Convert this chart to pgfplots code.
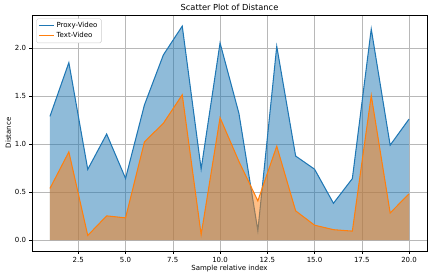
\documentclass[border=0pt]{standalone}
\usepackage{pgfplots}
\pgfplotsset{compat=1.18}
\usepackage{fontspec}
\setmainfont{DejaVu Sans}
\definecolor{tabblue}{HTML}{1F77B4}
\definecolor{taborange}{HTML}{FF7F0E}
\newcommand{\legfont}{\fontsize{7}{8}\selectfont}
\begin{document}
\begin{tikzpicture}
\begin{axis}[
  scale only axis,
  width=395pt, height=236pt,
  xmin=0.05, xmax=20.95, ymin=-0.112, ymax=2.346,
  xtick={2.5,5,...,20}, ytick={0,0.5,...,2},
  /pgf/number format/assume math mode=true,
  xticklabel style={/pgf/number format/.cd,fixed,fixed zerofill,precision=1},
  yticklabel style={/pgf/number format/.cd,fixed,fixed zerofill,precision=1},
  tick label style={font=\fontsize{7}{8}\selectfont},
  label style={font=\fontsize{7}{8}\selectfont},
  title style={font=\fontsize{8.3}{9}\selectfont, yshift=-5.5pt},
  title={Scatter Plot of Distance},
  xlabel={Sample relative index}, ylabel={Distance},
  xlabel style={yshift=4pt}, ylabel style={yshift=-3pt},
  grid=major, grid style={color=black!28, line width=0.6pt},
  axis line style={line width=0.7pt},
  tick style={black, line width=0.6pt},
  tick align=outside, major tick length=2.5pt,
  xtick pos=bottom, ytick pos=left,
  legend style={font=\legfont, nodes={font=\legfont}, draw=black!20, rounded corners=1.5pt, inner xsep=2pt, inner ysep=1.5pt, row sep=-0.5pt, at={(0.011,0.985)}, anchor=north west},
  legend cell align=left,
  legend image code/.code={\draw[#1, line width=1.05pt] (0pt,0pt) -- (15pt,0pt);},
]
\addplot[draw=none, fill=tabblue, fill opacity=0.5, forget plot] coordinates {
(1,1.29) (2,1.85) (3,0.738) (4,1.106) (5,0.644) (6,1.41) (7,1.93) (8,2.23) (9,0.742) (10,2.055)
(11,1.32) (12,0.1) (13,2.02) (14,0.877) (15,0.74) (16,0.385) (17,0.642) (18,2.2) (19,0.99) (20,1.262)
} \closedcycle;
\addplot[tabblue, line width=1.05pt, mark=none] coordinates {
(1,1.29) (2,1.85) (3,0.738) (4,1.106) (5,0.644) (6,1.41) (7,1.93) (8,2.23) (9,0.742) (10,2.055)
(11,1.32) (12,0.1) (13,2.02) (14,0.877) (15,0.74) (16,0.385) (17,0.642) (18,2.2) (19,0.99) (20,1.262)
};
\addlegendentry{\legfont Proxy-Video}
\addplot[draw=none, fill=taborange, fill opacity=0.5, forget plot] coordinates {
(1,0.54) (2,0.92) (3,0.05) (4,0.254) (5,0.233) (6,1.025) (7,1.218) (8,1.515) (9,0.058) (10,1.277)
(11,0.82) (12,0.41) (13,0.98) (14,0.306) (15,0.157) (16,0.11) (17,0.095) (18,1.508) (19,0.285) (20,0.483)
} \closedcycle;
\addplot[taborange, line width=1.05pt, mark=none] coordinates {
(1,0.54) (2,0.92) (3,0.05) (4,0.254) (5,0.233) (6,1.025) (7,1.218) (8,1.515) (9,0.058) (10,1.277)
(11,0.82) (12,0.41) (13,0.98) (14,0.306) (15,0.157) (16,0.11) (17,0.095) (18,1.508) (19,0.285) (20,0.483)
};
\addlegendentry{\legfont Text-Video}
\end{axis}
\pgfresetboundingbox
\path[use as bounding box] (current axis.south west) ++(-32pt,-25pt) rectangle ++(436pt,276pt);
\end{tikzpicture}
\end{document}
